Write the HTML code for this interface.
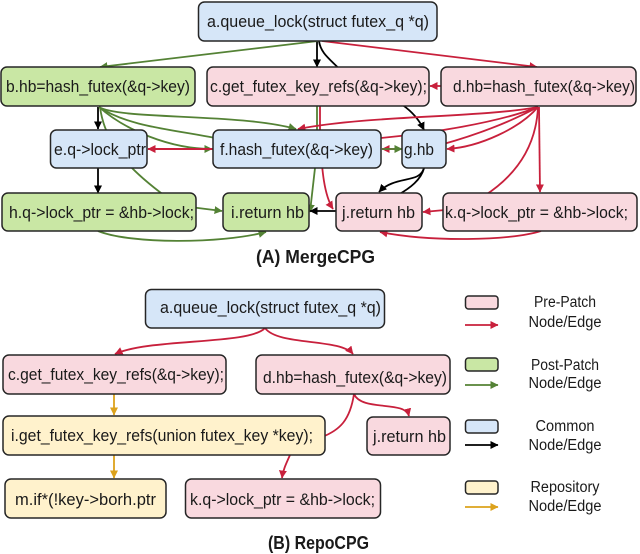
<!DOCTYPE html>
<html><head><meta charset="utf-8"><style>
html,body{margin:0;padding:0;background:#fff}
svg{display:block}
text{font-family:"Liberation Sans",sans-serif;font-size:17px;fill:#1a1a1a}
.t{font-weight:bold;font-size:18px}
.l{font-size:15.5px;text-anchor:middle}
rect{stroke:#262626;stroke-width:1.5}
.p{fill:#f9d9df}.g{fill:#c9e7a4}.b{fill:#d6e6f8}.y{fill:#fff2cc}
path{fill:none;stroke-width:1.8}
.R{stroke:#c8203c}.G{stroke:#548235}.K{stroke:#000}.Y{stroke:#dca21c}
</style></head><body>
<svg width="640" height="554" viewBox="0 0 640 554" xmlns="http://www.w3.org/2000/svg">
<defs>
<marker id="mR" markerUnits="userSpaceOnUse" markerWidth="9" markerHeight="9" refX="7.5" refY="4" orient="auto"><polygon points="0,0 8,4 0,8" fill="#c8203c"/></marker>
<marker id="mG" markerUnits="userSpaceOnUse" markerWidth="9" markerHeight="9" refX="7.5" refY="4" orient="auto"><polygon points="0,0 8,4 0,8" fill="#548235"/></marker>
<marker id="mK" markerUnits="userSpaceOnUse" markerWidth="9" markerHeight="9" refX="7.5" refY="4" orient="auto"><polygon points="0,0 8,4 0,8" fill="#000"/></marker>
<marker id="mY" markerUnits="userSpaceOnUse" markerWidth="9" markerHeight="9" refX="7.5" refY="4" orient="auto"><polygon points="0,0 8,4 0,8" fill="#dca21c"/></marker>
</defs>

<!-- A edges -->
<path class="K" d="M319,41 C321,55 332,60 345,75 C380,95 410,100 424,130" marker-end="url(#mK)"/>
<path class="K" d="M317,41 L317,67" marker-end="url(#mK)"/>
<path class="G" d="M318,41 L100,67" marker-end="url(#mG)"/>
<path class="R" d="M322,41 L537,67" marker-end="url(#mR)"/>
<path class="G" d="M317,90 L317,140 L315,168 L310,212" marker-end="url(#mG)"/>
<path class="R" d="M320,90 L320,140 C322,170 324,195 333,209" marker-end="url(#mR)"/>
<path class="K" d="M98,107 L98,129" marker-end="url(#mK)"/>
<path class="G" d="M99,107 C120,120 240,113 296,129" marker-end="url(#mG)"/>
<path class="G" d="M99,107 C130,128 180,130 225,140"/>
<path class="G" d="M99,107 C125,130 170,149 212,149" marker-end="url(#mG)"/>
<path class="G" d="M100,107 C105,145 130,170 165,196"/>
<path class="R" d="M240,149 L148,149" marker-end="url(#mR)" style="stroke-width:2"/>
<path class="K" d="M98,168 L98,193" marker-end="url(#mK)"/>
<path class="G" d="M190,207 L222,211" marker-end="url(#mG)"/>
<path class="G" d="M98,231 C130,244 220,244 266,232" marker-end="url(#mG)"/>
<path class="R" d="M538,107 C480,118 370,115 298,129" marker-end="url(#mR)"/>
<path class="R" d="M538,107 C500,122 430,134 370,139"/>
<path class="R" d="M538,107 C510,122 480,134 440,145"/>
<path class="R" d="M538,107 C520,128 480,147 447,149" marker-end="url(#mR)"/>
<path class="R" d="M539,107 L540,192" marker-end="url(#mR)"/>
<path class="R" d="M538,107 C536,150 512,178 484,196"/>
<path class="R" d="M441,86 L430,86" marker-end="url(#mR)"/>
<path class="R" d="M402,149 L382,149" marker-end="url(#mR)"/>
<path class="G" d="M382,149 L402,149" marker-end="url(#mG)"/>
<path class="K" d="M424,168 C420,184 395,175 379,192" marker-end="url(#mK)"/>
<path class="K" d="M424,168 C421,180 410,188 398,195"/>
<path class="K" d="M340,211 L310,211" marker-end="url(#mK)"/>
<path class="R" d="M445,210 L423,212" marker-end="url(#mR)"/>
<path class="R" d="M541,231 C510,241 430,242 380,232" marker-end="url(#mR)"/>

<!-- A nodes -->
<rect class="b" x="198.5" y="2" width="238.5" height="39" rx="6"/>
<rect class="g" x="1" y="67" width="194" height="39" rx="6"/>
<rect class="p" x="207" y="67" width="222" height="39" rx="6"/>
<rect class="p" x="441" y="67" width="195" height="39" rx="6"/>
<rect class="b" x="50.5" y="130" width="96.5" height="38" rx="6"/>
<rect class="b" x="213" y="130" width="168" height="38" rx="6"/>
<rect class="b" x="402" y="130" width="44" height="38" rx="6"/>
<rect class="g" x="2" y="193" width="194" height="38" rx="6"/>
<rect class="g" x="223" y="193" width="86" height="38" rx="6"/>
<rect class="p" x="336" y="193" width="86" height="38" rx="6"/>
<rect class="p" x="443" y="193" width="194" height="38" rx="6"/>

<text x="207" y="27" textLength="222" lengthAdjust="spacingAndGlyphs">a.queue_lock(struct futex_q *q)</text>
<text x="6" y="92" textLength="184" lengthAdjust="spacingAndGlyphs">b.hb=hash_futex(&amp;q-&gt;key)</text>
<text x="210" y="92" textLength="217" lengthAdjust="spacingAndGlyphs">c.get_futex_key_refs(&amp;q-&gt;key);</text>
<text x="453" y="92" textLength="182" lengthAdjust="spacingAndGlyphs">d.hb=hash_futex(&amp;q-&gt;key)</text>
<text x="54" y="155" textLength="92" lengthAdjust="spacingAndGlyphs">e.q-&gt;lock_ptr</text>
<text x="220" y="155" textLength="153" lengthAdjust="spacingAndGlyphs">f.hash_futex(&amp;q-&gt;key)</text>
<text x="404" y="155" textLength="30" lengthAdjust="spacingAndGlyphs">g.hb</text>
<text x="9" y="218" textLength="185" lengthAdjust="spacingAndGlyphs">h.q-&gt;lock_ptr = &amp;hb-&gt;lock;</text>
<text x="231" y="218" textLength="73" lengthAdjust="spacingAndGlyphs">i.return hb</text>
<text x="342" y="218" textLength="73" lengthAdjust="spacingAndGlyphs">j.return hb</text>
<text x="445" y="218" textLength="183" lengthAdjust="spacingAndGlyphs">k.q-&gt;lock_ptr = &amp;hb-&gt;lock;</text>
<text class="t" x="256" y="263" textLength="119" lengthAdjust="spacingAndGlyphs">(A) MergeCPG</text>

<!-- B edges -->
<path class="R" d="M265,328 C250,345 150,338 115,354" marker-end="url(#mR)"/>
<path class="R" d="M265,328 C278,346 340,338 353,354" marker-end="url(#mR)"/>
<path class="Y" d="M114,394 L114,415" marker-end="url(#mY)"/>
<path class="Y" d="M114,455 L114,478" marker-end="url(#mY)"/>
<path class="R" d="M354,394 C350,420 340,430 322,437"/>
<path class="R" d="M290,455 C286,464 283,470 282,478" marker-end="url(#mR)"/>
<path class="R" d="M354,394 C362,412 405,400 409,416" marker-end="url(#mR)"/>

<!-- B nodes -->
<rect class="b" x="145.5" y="289.5" width="239" height="38.5" rx="6"/>
<rect class="p" x="3" y="355" width="223" height="39" rx="6"/>
<rect class="p" x="256" y="355" width="194" height="39" rx="6"/>
<rect class="y" x="3" y="416" width="322" height="39" rx="6"/>
<rect class="p" x="367" y="417" width="83" height="38" rx="6"/>
<rect class="y" x="5" y="479" width="161" height="39" rx="6"/>
<rect class="p" x="185.5" y="479" width="195" height="39" rx="6"/>

<text x="160" y="313" textLength="221" lengthAdjust="spacingAndGlyphs">a.queue_lock(struct futex_q *q)</text>
<text x="8" y="380" textLength="216" lengthAdjust="spacingAndGlyphs">c.get_futex_key_refs(&amp;q-&gt;key);</text>
<text x="263" y="383" textLength="184" lengthAdjust="spacingAndGlyphs">d.hb=hash_futex(&amp;q-&gt;key)</text>
<text x="11" y="441" textLength="302" lengthAdjust="spacingAndGlyphs">i.get_futex_key_refs(union futex_key *key);</text>
<text x="373" y="442" textLength="73" lengthAdjust="spacingAndGlyphs">j.return hb</text>
<text x="15" y="505" textLength="141" lengthAdjust="spacingAndGlyphs">m.if*(!key-&gt;borh.ptr</text>
<text x="190" y="505" textLength="185" lengthAdjust="spacingAndGlyphs">k.q-&gt;lock_ptr = &amp;hb-&gt;lock;</text>
<text class="t" x="268" y="549" textLength="101" lengthAdjust="spacingAndGlyphs">(B) RepoCPG</text>

<!-- Legend -->
<rect class="p" x="465.5" y="296" width="32.5" height="13" rx="3"/>
<path class="R" d="M465,325 L498,325" marker-end="url(#mR)"/>
<rect class="g" x="465.5" y="358" width="32.5" height="13" rx="3"/>
<path class="G" d="M465,385 L498,385" marker-end="url(#mG)"/>
<rect class="b" x="465.5" y="420" width="32.5" height="13" rx="3"/>
<path class="K" d="M465,445 L498,445" marker-end="url(#mK)"/>
<rect class="y" x="465.5" y="481" width="32.5" height="13" rx="3"/>
<path class="Y" d="M465,507 L498,507" marker-end="url(#mY)"/>

<text class="l" x="565" y="307" textLength="62" lengthAdjust="spacingAndGlyphs">Pre-Patch</text>
<text class="l" x="565" y="327" textLength="73" lengthAdjust="spacingAndGlyphs">Node/Edge</text>
<text class="l" x="565" y="370" textLength="68" lengthAdjust="spacingAndGlyphs">Post-Patch</text>
<text class="l" x="565" y="388" textLength="73" lengthAdjust="spacingAndGlyphs">Node/Edge</text>
<text class="l" x="565" y="431" textLength="59" lengthAdjust="spacingAndGlyphs">Common</text>
<text class="l" x="565" y="450" textLength="73" lengthAdjust="spacingAndGlyphs">Node/Edge</text>
<text class="l" x="565" y="492" textLength="69" lengthAdjust="spacingAndGlyphs">Repository</text>
<text class="l" x="565" y="511" textLength="73" lengthAdjust="spacingAndGlyphs">Node/Edge</text>
</svg>
</body></html>
